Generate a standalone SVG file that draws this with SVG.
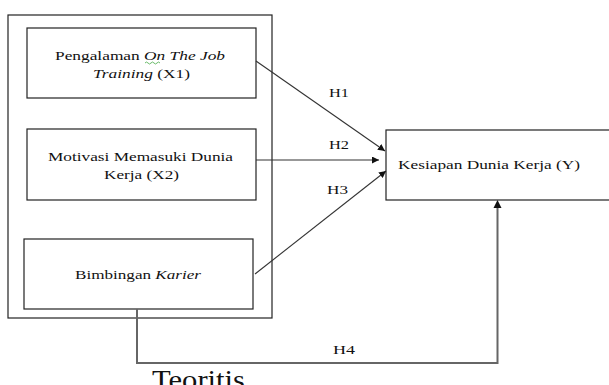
<svg xmlns="http://www.w3.org/2000/svg" width="609" height="385" viewBox="0 0 609 385">
<defs>
<style>
.box{fill:#fff;stroke:#222;stroke-width:1.2}
.t{font-family:'Liberation Serif','DejaVu Serif',serif;font-size:12px;fill:#111}
.i{font-style:italic}
.c{fill:none;stroke:#333;stroke-width:1.1}
.c4{fill:none;stroke:#666;stroke-width:2}
</style>
<marker id="ah" viewBox="0 0 10 10" refX="10" refY="5" markerWidth="7" markerHeight="7" markerUnits="userSpaceOnUse" orient="auto">
<path d="M0,0 L10,5 L0,10 z" fill="#111"/>
</marker>
</defs>
<rect width="609" height="385" fill="#fff"/>
<g id="outer"><rect class="box" x="8" y="15" width="264" height="303"/></g>
<g id="x1">
<rect class="box" x="27" y="28" width="229" height="70"/>
<text class="t" x="55" y="60" textLength="170" lengthAdjust="spacingAndGlyphs">Pengalaman <tspan class="i">On The Job</tspan></text>
<path d="M145,63 q1.5,-2 3,0 t3,0 t3,0 t3,0 t3,0" fill="none" stroke="#4a4" stroke-width="0.8"/>
<text class="t" x="93" y="78" textLength="97" lengthAdjust="spacingAndGlyphs"><tspan class="i">Training</tspan> (X1)</text>
</g>
<g id="x2">
<rect class="box" x="27" y="129" width="229" height="71"/>
<text class="t" x="48" y="161" textLength="185" lengthAdjust="spacingAndGlyphs">Motivasi Memasuki Dunia</text>
<text class="t" x="104" y="179" textLength="75" lengthAdjust="spacingAndGlyphs">Kerja (X2)</text>
</g>
<g id="x3">
<rect class="box" x="24" y="239" width="229" height="70"/>
<text class="t" x="75" y="279" textLength="126" lengthAdjust="spacingAndGlyphs">Bimbingan <tspan class="i">Karier</tspan></text>
</g>
<g id="y">
<rect class="box" x="386" y="130" width="240" height="70"/>
<text class="t" x="398" y="169" textLength="182" lengthAdjust="spacingAndGlyphs">Kesiapan Dunia Kerja (Y)</text>
</g>
<g id="connectors">
<line class="c" x1="256" y1="61" x2="385" y2="151" marker-end="url(#ah)"/>
<line class="c" x1="256" y1="160" x2="379" y2="160" marker-end="url(#ah)"/>
<line class="c" x1="255" y1="274" x2="386" y2="171" marker-end="url(#ah)"/>
<polyline class="c4" points="137,309 137,363 497.5,363 497.5,207"/>
<path d="M493.5,208 L497.5,200 L501.5,208 z" fill="#111"/>
<text class="t" x="329" y="97" textLength="20" lengthAdjust="spacingAndGlyphs">H1</text>
<text class="t" x="329" y="149" textLength="20" lengthAdjust="spacingAndGlyphs">H2</text>
<text class="t" x="327" y="194" textLength="21" lengthAdjust="spacingAndGlyphs">H3</text>
<text class="t" x="333" y="354" textLength="22" lengthAdjust="spacingAndGlyphs">H4</text>
</g>
<text class="t" x="152" y="389" style="font-size:28px" textLength="93" lengthAdjust="spacingAndGlyphs">Teoritis</text>
</svg>
